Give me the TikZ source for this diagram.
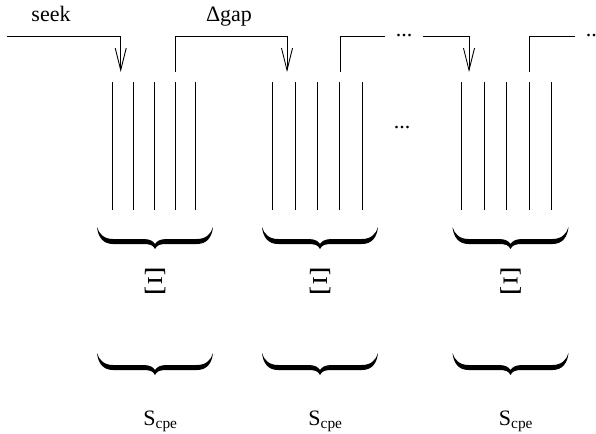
\documentclass[tikz,border=0pt]{standalone}
\usepackage{fontspec}
\setmainfont{Liberation Serif}
\usetikzlibrary{positioning, arrows.meta}
\tikzstyle{every node}=[font=\fontsize{22}{26}\selectfont, inner sep=0pt]
\tikzstyle{track}=[draw, line width=0.9pt]
\tikzstyle{hop}=[draw, line width=0.9pt]
\tikzstyle{dotsnode}=[inner xsep=11pt]
\tikzstyle{bignode}=[font=\normalsize]
\tikzset{curly/.pic={
  \fill (-58,0) .. controls (-57,10) and (-52,17) .. (-42,17) -- (-12,17)
    .. controls (-5,17) and (-2,18) .. (0,22)
    .. controls (2,18) and (5,17) .. (12,17) -- (42,17)
    .. controls (52,17) and (57,10) .. (58,0)
    .. controls (56,7) and (51,12) .. (42,12) -- (12,12)
    .. controls (5,12) and (2,14) .. (0,17)
    .. controls (-2,14) and (-5,12) .. (-12,12) -- (-42,12)
    .. controls (-51,12) and (-56,7) .. (-58,0) -- cycle;
}}

\begin{document}
\begin{tikzpicture}[x=1pt, y=-1pt, >={Straight Barb[length=22pt,width=11pt,line width=0.9pt]}]
  \useasboundingbox (0,0) rectangle (596,433);
  % tracks of the three groups
  \foreach \g/\xa/\dx in {a/112.7/20.8, b/272.7/22.4, c/461.7/22.5} {
    \foreach \i in {1,...,5} {
      \coordinate (\g\i top) at ({\xa+(\i-1)*\dx},82);
      \coordinate (\g\i bot) at ({\xa+(\i-1)*\dx},210);
      \draw[track] (\g\i top) -- (\g\i bot);
    }
  }
  % labels and dots
  \node[anchor=base] (seek) at (51,22) {seek};
  \node[anchor=base] (gap) at (229,22) {Δgap};
  \node[dotsnode] (dotsA) at (404,36) {...};
  \node[dotsnode] (dotsB) at (594,36) {...};
  \node (dotsM) at (402,128) {...};
  % arrows into the groups
  \coordinate (seek start) at (7,36);
  \coordinate (a in) at (120.7,72);
  \coordinate (b in) at (287,72);
  \coordinate (c in) at (469,72);
  \coordinate (a4 up) at (175.3,72);
  \coordinate (b4 up) at (340,72);
  \coordinate (c4 up) at (529,72);
  \draw[hop, ->] (seek start) -| (a in);
  \draw[hop, ->] (a4 up) -- ++(0,-36) -| (b in);
  \draw[hop] (b4 up) |- (dotsA.west);
  \draw[hop, ->] (dotsA.east) -| (c in);
  \draw[hop] (c4 up) |- (dotsB.west);
  % braces, Xi and S_cpe
  \foreach \g/\xc in {a/155, b/320, c/510.5} {
    \pic at (\xc,227) {curly};
    \node[bignode] (xi\g) at (\xc,281) {\scalebox{3.6}{$\Xi$}};
    \pic at (\xc,353) {curly};
    \node[anchor=base] (scpe\g) at (\xc+5.5,425) {S\textsubscript{cpe}};
  }
\end{tikzpicture}
\end{document}
